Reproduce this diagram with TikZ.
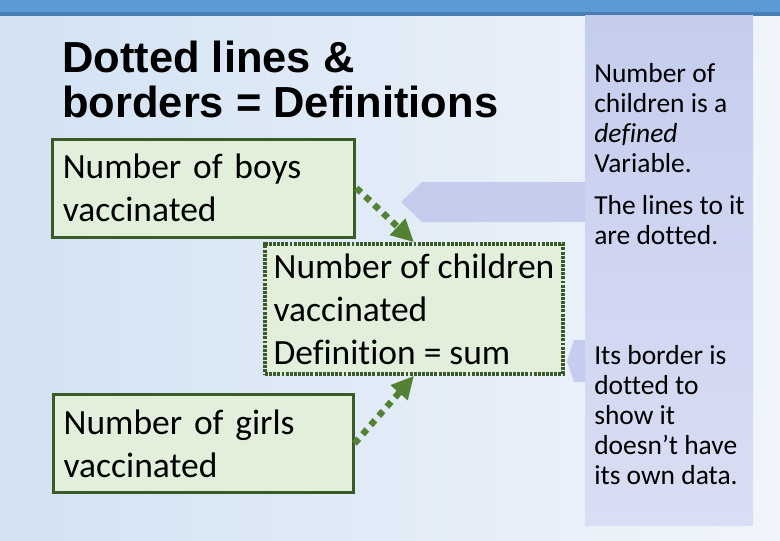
\documentclass[tikz,border=0pt]{standalone}
\usepackage{fontspec}
\setmainfont{Carlito}[Ligatures=NoCommon]
\newfontfamily\titlefont{Liberation Sans}
\usetikzlibrary{arrows.meta}
\definecolor{bandblue}{HTML}{5B9BD5}
\definecolor{banddark}{HTML}{4A7DB4}
\definecolor{bgleft}{HTML}{D2E2F3}
\definecolor{bgright}{HTML}{F1F5FB}
\definecolor{paneltop}{HTML}{C5CDEE}
\definecolor{panelbot}{HTML}{DADEF4}
\definecolor{boxfill}{HTML}{E2EFDA}
\definecolor{boxline}{HTML}{3A5A27}
\definecolor{arrowgreen}{HTML}{548235}
\begin{document}
\begin{tikzpicture}[x=0.75pt,y=-0.75pt,
    varbox/.style={draw=boxline, fill=boxfill, line width=2.25pt, align=left,
      inner xsep=8pt, inner ysep=0pt, font=\fontsize{26.6}{32.25}\selectfont},
    defbox/.style={varbox, line width=2.6pt, dash pattern=on 2.2pt off 0.9pt, inner xsep=0pt},
    defarrow/.style={draw=arrowgreen, line width=4.8pt, dash pattern=on 4.8pt off 4.4pt,
      -{Triangle[length=17pt,width=16pt]}},
    note/.style={anchor=north west, inner sep=0pt, align=left,
      font=\fontsize{20.6}{22.5}\selectfont},
    callout/.style={fill=paneltop}]
  \useasboundingbox (0,0) rectangle (780,540);
  \shade[left color=bgleft, right color=bgright] (0,0) rectangle (780,540);
  \fill[bandblue] (0,0) rectangle (780,13);
  \fill[banddark] (0,12) rectangle (780,15.5);
  \shade[top color=paneltop, bottom color=panelbot] (585,15.5) rectangle (753,525);
  \fill[callout] (585,182) -- (422,182) -- (401,202) -- (422,222) -- (585,222) -- cycle;
  \fill[callout] (585,340) -- (574,340) -- (567,361) -- (574,382) -- (585,382) -- cycle;
  \node[anchor=north west, inner sep=0pt, align=left,
    font=\titlefont\bfseries\fontsize{32.6}{33.75}\selectfont] (title) at (62,41)
    {Dotted lines \&\\borders = Definitions};
  \node[varbox, text width=211pt, minimum height=73.5pt] (boys) at (203.5,188)
    {Number of boys\\vaccinated};
  \node[varbox, text width=209pt, minimum height=74pt] (girls) at (203,443.5)
    {Number of girls\\vaccinated};
  \node[defbox, minimum width=223.5pt, minimum height=97.5pt] (children) at (414,309)
    {Number of children\\vaccinated\\Definition = sum};
  \draw[defarrow] (boys.east) -- (children.north);
  \draw[defarrow] (girls.east) -- (children.south);
  \node[note] (note1) at (594,63)
    {Number of\\children is a\\\emph{defined}\\Variable.\\[9pt]The lines to it\\are dotted.};
  \node[note] (note2) at (594,345)
    {Its border is\\dotted to\\show it\\doesn’t have\\its own data.};
\end{tikzpicture}
\end{document}
